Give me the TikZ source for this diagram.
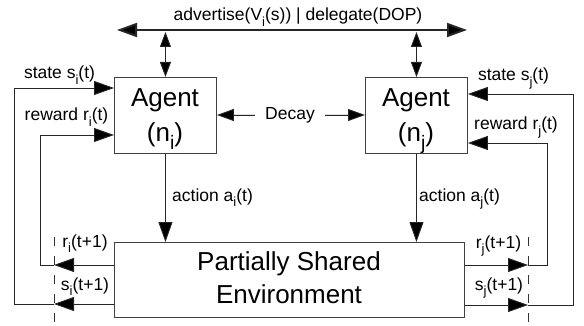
\documentclass[tikz,border=0pt]{standalone}
\usepackage{fontspec}
\usepackage{graphicx}
\setmainfont{Liberation Sans}
\usetikzlibrary{arrows.meta}
\newcommand\lowsub[1]{\raisebox{-0.55ex}{\scalebox{0.75}{#1}}}
\begin{document}
\begin{tikzpicture}[x=1pt,y=-1pt,
  box/.style={draw=black!75, line width=0.9pt, inner sep=0pt, anchor=north west},
  conn/.style={draw=black!85, fill=black, line width=0.9pt},
  tip/.style={-{Triangle[length=20pt,width=14pt,fill=black]}},
  smalltips/.style={{Triangle[length=15pt,width=11pt,fill=black]}-{Triangle[length=15pt,width=11pt,fill=black]}},
  bigtips/.style={{Triangle[length=20pt,width=14pt,fill=black]}-{Triangle[length=20pt,width=14pt,fill=black]}},
  dtip/.style={-{Triangle[length=17pt,width=12pt,fill=black]}},
  lbl/.style={font=\fontsize{17.5}{20}\selectfont, anchor=base, inner sep=0pt},
  big/.style={font=\fontsize{26}{33}\selectfont, anchor=base, inner sep=0pt},
  dash line/.style={draw=black!80, line width=0.9pt, dash pattern=on 9pt off 10pt},
]
\useasboundingbox (0,0) rectangle (584,326);
% boxes
\node[box, minimum width=102pt, minimum height=76pt] (ai) at (114,77) {};
\node[box, minimum width=102pt, minimum height=76pt] (aj) at (365,77) {};
\node[box, minimum width=350pt, minimum height=75pt] (env) at (114,242) {};
% box texts
\node[big] (aitA) at (165,107) {Agent};
\node[big] (aitB) at (165,142) {(n\lowsub{i})};
\node[big] (ajtA) at (416,107) {Agent};
\node[big] (ajtB) at (416,142) {(n\lowsub{j})};
\node[big] (envA) at (289,270) {Partially Shared};
\node[big] (envB) at (289,303) {Environment};
% top bus
\coordinate (tl) at (117,30);
\coordinate (tr) at (467,30);
\draw[conn, line width=1.9pt, bigtips] (tl) -- (tr);
\node[lbl] (adv) at (298,21) {advertise(V\lowsub{i}(s)) | delegate(DOP)};
\draw[conn, smalltips] (ai.north |- 0,32) -- (ai.north);
\draw[conn, smalltips] (aj.north |- 0,32) -- (aj.north);
% decay
\node[lbl, inner xsep=10pt] (decay) at (290,120) {Decay};
\draw[conn, dtip] (decay.west |- 0,115) -- (ai.east |- 0,115);
\draw[conn, dtip] (decay.east |- 0,115) -- (aj.west |- 0,115);
% actions
\draw[conn, tip] (ai.south) -- (ai.south |- env.north);
\draw[conn, tip] (aj.south) -- (aj.south |- env.north);
\node[lbl, anchor=base west] (acti) at (172,201) {action a\lowsub{i}(t)};
\node[lbl, anchor=base west] (actj) at (419,201) {action a\lowsub{j}(t)};
% dashed separators
\coordinate (dlt) at (54,237);
\coordinate (dlb) at (54,326);
\coordinate (drt) at (528,237);
\coordinate (drb) at (528,326);
\draw[dash line] (dlt) -- (dlb);
\draw[dash line] (drt) -- (drb);
% left feedback
\coordinate (ril) at (54,265);
\coordinate (sil) at (54,304);
\draw[conn, fill=none, tip] (env.west |- ril) -- (ril);
\draw[conn, fill=none, tip] (env.west |- sil) -- (sil);
\draw[conn, fill=none, tip] (ril) -- (40,265) |- (ai.west |- 0,135);
\draw[conn, fill=none, tip] (sil) -- (14,304) |- (ai.west |- 0,88);
% right feedback
\coordinate (rjr) at (528,265);
\coordinate (sjr) at (528,305);
\draw[conn, fill=none, tip] (env.east |- rjr) -- (rjr);
\draw[conn, fill=none, tip] (env.east |- sjr) -- (sjr);
\draw[conn, fill=none, tip] (rjr) -- (547,265) |- (aj.east |- 0,143);
\draw[conn, fill=none, tip] (sjr) -- (573,305) |- (aj.east |- 0,94);
% labels
\node[lbl] (lsi) at (59.5,79) {state s\lowsub{i}(t)};
\node[lbl] (lri) at (66.5,121) {reward r\lowsub{i}(t)};
\node[lbl] (lsj) at (513.5,81) {state s\lowsub{j}(t)};
\node[lbl] (lrj) at (516,130) {reward r\lowsub{j}(t)};
\node[lbl] (lri1) at (85,247) {r\lowsub{i}(t+1)};
\node[lbl] (lsi1) at (85,290) {s\lowsub{i}(t+1)};
\node[lbl] (lrj1) at (498.5,248) {r\lowsub{j}(t+1)};
\node[lbl] (lsj1) at (499,290) {s\lowsub{j}(t+1)};
\end{tikzpicture}
\end{document}
